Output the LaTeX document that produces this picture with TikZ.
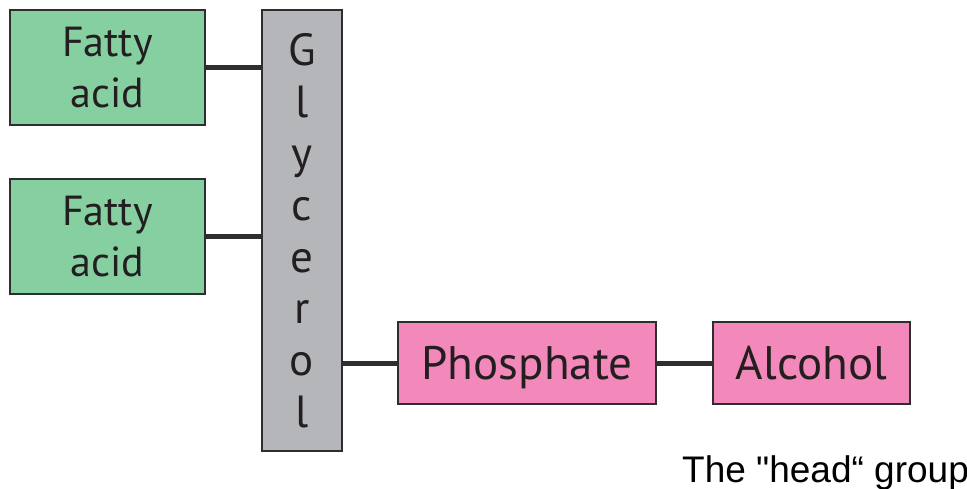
\documentclass[tikz,border=0pt]{standalone}
\usepackage{fontspec}
\setmainfont{PT Sans}
\newfontfamily\capfont{Liberation Sans}
\definecolor{fagreen}{HTML}{86CFA0}
\definecolor{glygray}{HTML}{B5B6B9}
\definecolor{headpink}{HTML}{F389BA}
\definecolor{edgedark}{HTML}{2E2E2E}
\definecolor{inkdark}{HTML}{231F20}
\begin{document}
\begin{tikzpicture}[x=1pt,y=-1pt,
  box/.style={draw=edgedark,line width=2pt,inner sep=0pt,text=inkdark,align=center},
  fabox/.style={box,fill=fagreen,minimum width=195pt,minimum height=115pt,font=\fontsize{42}{51}\selectfont},
  headbox/.style={box,fill=headpink,minimum height=82pt,text depth=0pt,font=\fontsize{47}{50}\selectfont},
  link/.style={draw=edgedark,line width=5pt}]
\useasboundingbox (0,0) rectangle (967,488);
\node[fabox] (fa1) at (107.5,67.5) {Fatty\\acid};
\node[fabox] (fa2) at (107.5,236.5) {Fatty\\acid};
\node[box,fill=glygray,minimum width=80pt,minimum height=441pt,font=\fontsize{45}{51.7}\selectfont] (gly) at (302,230.5) {G\\l\\y\\c\\e\\r\\o\\l};
\node[headbox,minimum width=258pt] (pho) at (527,363) {Phosphate};
\node[headbox,minimum width=197pt] (alc) at (811.5,363) {Alcohol};
\draw[link] (fa1.east) -- (fa1.east -| gly.west);
\draw[link] (fa2.east) -- (fa2.east -| gly.west);
\draw[link] (pho.west -| gly.east) -- (pho.west);
\draw[link] (pho.east) -- (alc.west);
\node[anchor=base west,inner sep=0pt,font=\capfont\fontsize{37}{40}\selectfont] (cap) at (682,482) {The "head“ group};
\end{tikzpicture}
\end{document}
